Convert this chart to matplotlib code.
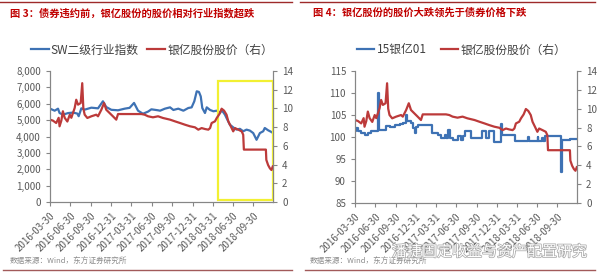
import matplotlib
matplotlib.use("Agg")
import matplotlib.pyplot as plt
import matplotlib.dates as mdates
import matplotlib.patheffects as pe
from matplotlib.patches import Rectangle
from matplotlib.ticker import FuncFormatter
import pandas as pd

plt.rcParams['font.family'] = ['Noto Sans CJK SC', 'DejaVu Sans']

# ---- data ----
sw_dates = ["2016-03-30", "2016-04-20", "2016-05-05", "2016-05-12", "2016-05-27", "2016-06-19",
            "2016-07-12", "2016-07-31", "2016-08-06", "2016-08-18", "2016-09-02", "2016-10-02",
            "2016-11-01", "2016-11-23", "2016-12-08", "2016-12-31", "2017-01-30", "2017-03-01",
            "2017-03-23", "2017-04-12", "2017-04-30", "2017-05-22", "2017-06-14", "2017-06-29",
            "2017-07-29", "2017-08-07", "2017-08-29", "2017-09-21", "2017-10-06", "2017-10-28",
            "2017-11-20", "2017-12-12", "2017-12-27", "2018-01-08", "2018-01-19", "2018-01-29",
            "2018-02-06", "2018-02-13", "2018-02-25", "2018-03-05", "2018-03-20", "2018-04-04",
            "2018-04-19", "2018-05-04", "2018-05-11", "2018-05-26", "2018-06-02", "2018-06-17",
            "2018-07-02", "2018-07-17", "2018-08-01", "2018-08-16", "2018-08-31", "2018-09-15",
            "2018-09-30", "2018-10-15", "2018-10-30", "2018-11-14", "2018-11-21", "2018-12-06",
            "2018-12-21", "2018-12-28"]
sw_index = [5700, 5576, 5700, 5435, 5333, 5430,
            5460, 5400, 5240, 5720, 5640, 5760,
            5720, 6150, 5800, 5630, 5600, 5700,
            5750, 6050, 5576, 5390, 5520, 5660,
            5600, 5576, 5700, 5780, 5620, 5700,
            5576, 5740, 5780, 6150, 6760, 6720,
            6450, 5740, 5435, 5780, 5620, 5540,
            5576, 5435, 5620, 5330, 5130, 4720,
            4560, 4420, 4470, 4320, 4420, 4360,
            4210, 3800, 4210, 4320, 4520, 4380,
            4275, 4210]

stock_dates = ["2016-03-30", "2016-04-12", "2016-04-27", "2016-05-08", "2016-05-12", "2016-05-20",
               "2016-05-27", "2016-06-04", "2016-06-16", "2016-06-27", "2016-07-04", "2016-07-19",
               "2016-07-26", "2016-08-03", "2016-08-15", "2016-08-22", "2016-08-27", "2016-09-02",
               "2016-09-14", "2016-10-02", "2016-10-24", "2016-11-01", "2016-11-16", "2016-11-28",
               "2016-12-08", "2016-12-23", "2017-01-07", "2017-01-22", "2017-01-30", "2017-05-15",
               "2017-05-30", "2017-06-14", "2017-07-06", "2017-07-29", "2017-08-20", "2017-09-21",
               "2017-10-13", "2017-11-05", "2017-11-27", "2017-12-20", "2018-01-11", "2018-01-26",
               "2018-02-10", "2018-02-25", "2018-03-12", "2018-03-20", "2018-03-27", "2018-04-11",
               "2018-04-19", "2018-05-01", "2018-05-11", "2018-05-22", "2018-06-02", "2018-06-10",
               "2018-06-21", "2018-07-02", "2018-07-10", "2018-07-25", "2018-08-09", "2018-08-16",
               "2018-08-19", "2018-11-26", "2018-11-28", "2018-12-06", "2018-12-14", "2018-12-21",
               "2018-12-27"]
stock_price = [8.8, 8.7, 8.44, 9.0, 8.09, 8.7,
               9.7, 9.0, 8.6, 9.33, 9.0, 10.05,
               10.93, 10.4, 10.58, 12.7, 10.0, 9.33,
               8.98, 9.16, 9.33, 9.16, 9.86, 10.58,
               9.86, 9.51, 9.16, 8.8, 9.4, 9.4,
               9.33, 9.16, 9.05, 9.16, 8.98, 8.8,
               8.62, 8.44, 8.26, 8.09, 7.98, 7.73,
               7.9, 7.8, 7.73, 7.9, 8.44, 8.62,
               8.98, 9.4, 9.97, 9.76, 9.33, 8.62,
               8.09, 7.55, 7.9, 7.73, 7.55, 7.19,
               5.6, 5.6, 4.5, 3.95, 3.6, 3.42,
               3.8]

bond_dates = ["2016-03-30", "2016-04-05", "2016-04-12", "2016-04-27", "2016-05-12", "2016-05-27",
              "2016-06-11", "2016-06-27", "2016-07-07", "2016-07-12", "2016-07-16", "2016-08-03",
              "2016-08-18", "2016-09-02", "2016-09-25", "2016-10-18", "2016-11-02", "2016-11-17",
              "2016-11-22", "2016-12-09", "2016-12-17", "2016-12-25", "2017-01-01", "2017-01-08",
              "2017-03-13", "2017-04-09", "2017-04-24", "2017-05-09", "2017-05-17", "2017-05-24",
              "2017-06-01", "2017-06-16", "2017-07-08", "2017-07-23", "2017-07-31", "2017-08-09",
              "2017-09-05", "2017-10-24", "2017-11-11", "2017-11-26", "2017-12-20", "2018-01-19",
              "2018-01-22", "2018-03-23", "2018-05-22", "2018-05-25", "2018-07-04", "2018-07-07",
              "2018-07-25", "2018-07-28", "2018-08-06", "2018-10-17", "2018-10-23", "2018-11-27",
              "2018-12-28"]
bond_price = [101.3, 102.0, 101.3, 100.9, 100.5, 100.9,
              101.4, 101.3, 101.4, 110.0, 101.7, 101.5,
              102.4, 102.2, 102.7, 103.0, 103.2, 105.1,
              103.6, 103.2, 102.0, 101.0, 102.3, 102.8,
              100.9, 100.5, 99.8, 100.5, 99.8, 101.7,
              99.8, 99.4, 100.2, 99.4, 100.2, 101.3,
              99.8, 101.3, 99.8, 101.3, 98.9, 103.0,
              100.5, 99.0, 100.0, 99.0, 100.0, 99.0,
              99.8, 99.0, 100.2, 92.0, 99.4, 99.6,
              99.6]

tick_dates = ["2016-03-30", "2016-06-30", "2016-09-30", "2016-12-31", "2017-03-31", "2017-06-30",
              "2017-09-30", "2017-12-31", "2018-03-31", "2018-06-30", "2018-09-30"]

box_x = ["2018-04-25", "2018-12-28"]
box_y = [120, 7390]

BLUE = '#3E72B4'
RED = '#BC3A3A'
GRAY = '#595959'
AXC = '#868686'

sw_d = pd.to_datetime(sw_dates)
st_d = pd.to_datetime(stock_dates)
bd_d = pd.to_datetime(bond_dates)
ticks = pd.to_datetime(tick_dates)
x0, x1 = pd.Timestamp("2016-03-30"), pd.Timestamp("2018-12-28")


def style_axes(ax, ax2):
    for a in (ax, ax2):
        a.spines['top'].set_visible(False)
        for s in ('left', 'right', 'bottom'):
            a.spines[s].set_color(AXC)
            a.spines[s].set_linewidth(0.8)
        a.tick_params(axis='both', colors=AXC, labelcolor=GRAY, labelsize=7, length=3, width=0.8)
    ax.set_xlim(x0, x1)
    ax.set_xticks(ticks)
    ax.xaxis.set_major_formatter(mdates.DateFormatter('%Y-%m-%d'))
    for lab in ax.get_xticklabels():
        lab.set_rotation(45)
        lab.set_ha('right')
        lab.set_rotation_mode('anchor')
        lab.set_fontsize(7)
    ax2.set_ylim(0, 14)
    ax2.set_yticks(range(0, 15, 2))


fig = plt.figure(figsize=(6, 2.77), dpi=100)
fig.patch.set_facecolor('white')

# ---- left panel ----
ax = fig.add_axes([50 / 600, 1 - 202 / 277, 223 / 600, 131 / 277])
ax2 = ax.twinx()
l1, = ax.plot(sw_d, sw_index, color=BLUE, lw=1.6, label='SW二级行业指数')
l2, = ax2.plot(st_d, stock_price, color=RED, lw=1.6, label='银亿股份股价（右）')
ax.set_ylim(0, 8000)
ax.set_yticks(range(0, 8001, 1000))
ax.yaxis.set_major_formatter(FuncFormatter(lambda v, p: '{:,.0f}'.format(v)))
style_axes(ax, ax2)
bx0, bx1 = mdates.date2num(pd.to_datetime(box_x))
ax.add_patch(Rectangle((bx0, box_y[0]), bx1 - bx0, box_y[1] - box_y[0], fill=False,
                       edgecolor='#F2F032', lw=1.6, zorder=5, clip_on=False))
ax2.legend(handles=[l1, l2], loc='center', bbox_to_anchor=(0.457, 1.16), ncol=2, frameon=False,
           fontsize=8.5, handlelength=1.5, handletextpad=0.2, columnspacing=0.7,
           labelcolor='#404040')

# ---- right panel ----
bx = fig.add_axes([355 / 600, 1 - 203 / 277, 222 / 600, 132 / 277])
bx2 = bx.twinx()
m1, = bx.plot(bd_d, bond_price, color=BLUE, lw=1.6, drawstyle='steps-post', label='15银亿01')
m2, = bx2.plot(st_d, stock_price, color=RED, lw=1.6, label='银亿股份股价（右）')
bx.set_ylim(85, 115)
bx.set_yticks(range(85, 116, 5))
style_axes(bx, bx2)
bx2.legend(handles=[m1, m2], loc='center', bbox_to_anchor=(0.48, 1.16), ncol=2, frameon=False,
           fontsize=8.5, handlelength=1.5, handletextpad=0.2, columnspacing=1.2,
           labelcolor='#404040')

# ---- titles, sources, frame lines ----
title_c = '#C00000'
fig.text(10 / 600, 1 - 13 / 277, '图 3：债券违约前，银亿股份的股价相对行业指数超跌',
         color=title_c, fontsize=7.4, fontweight='bold', va='center')
fig.text(313 / 600, 1 - 13 / 277, '图 4：银亿股份的股价大跌领先于债券价格下跌',
         color=title_c, fontsize=7.4, fontweight='bold', va='center')
fig.text(10 / 600, 1 - 262 / 277, '数据来源：Wind，东方证券研究所', color='#8C8C8C', fontsize=5.5, va='center')
fig.text(310 / 600, 1 - 262 / 277, '数据来源：Wind，东方证券研究所', color='#8C8C8C', fontsize=5.5, va='center')

for xa, xb in ((0, 292), (300, 595)):
    fig.add_artist(plt.Line2D([xa / 600, xb / 600], [1 - 1.5 / 277] * 2, color='#9E2A2A', lw=1.0))
for xa, xb in ((3, 292), (305, 595)):
    fig.add_artist(plt.Line2D([xa / 600, xb / 600], [1 - 270 / 277] * 2, color='#A25A5A', lw=1.0))

wm = fig.text(392 / 600, 1 - 252 / 277, '潘捷固定收益与资产配置研究', color='white', fontsize=10.8,
              va='center', ha='left', zorder=10)
wm.set_path_effects([pe.withStroke(linewidth=1.1, foreground='#ABABAB')])

fig.savefig('out.png', dpi=100, facecolor='white')
